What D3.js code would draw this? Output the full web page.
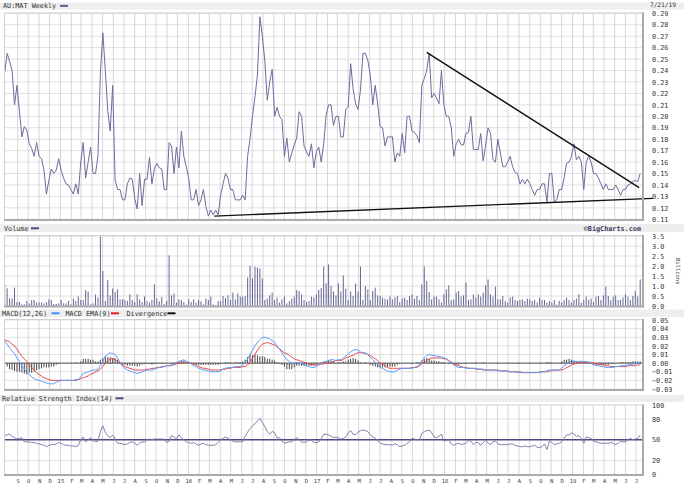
<!DOCTYPE html>
<html><head><meta charset="utf-8">
<script src="https://cdn.jsdelivr.net/npm/d3@7/dist/d3.min.js"></script>
<style>body{margin:0;background:#fff}svg{display:block}</style>
</head><body><svg id="c" width="684" height="485"></svg>
<script>
const startDate = new Date(2014, 6, 26);
const endDate = "7/21/19";
const symbolTitle = "AU:MAT Weekly";
const price = [
0.238,0.255,0.248,0.240,0.210,0.227,0.205,0.182,0.191,0.188,
0.176,0.172,0.165,0.177,0.165,0.163,0.153,0.132,0.144,0.154,
0.150,0.153,0.163,0.153,0.146,0.141,0.140,0.136,0.132,0.141,
0.132,0.160,0.177,0.146,0.160,0.173,0.150,0.150,0.165,0.238,
0.273,0.240,0.205,0.187,0.227,0.144,0.136,0.136,0.127,0.127,
0.141,0.146,0.145,0.128,0.119,0.150,0.122,0.145,0.145,0.164,
0.141,0.154,0.159,0.155,0.154,0.136,0.136,0.177,
0.174,0.150,0.173,0.155,0.187,0.165,0.156,0.146,0.127,0.127,
0.136,0.122,0.127,0.136,0.121,0.113,0.118,0.114,0.118,0.114,
0.131,0.141,0.150,0.146,0.136,0.136,0.127,0.127,0.127,0.131,
0.127,0.165,0.181,0.200,0.217,0.236,0.287,0.270,0.249,0.214,
0.230,0.241,0.200,0.208,0.200,0.197,0.165,0.181,0.160,0.168,
0.175,0.181,0.204,0.200,0.174,0.169,0.165,0.176,0.155,0.169,
0.173,0.160,0.176,0.201,0.210,0.210,0.192,0.200,
0.200,0.182,0.182,0.206,0.208,0.246,0.224,0.211,0.206,0.223,
0.255,0.255,0.249,0.236,0.210,0.227,0.211,0.191,0.190,0.174,
0.182,0.182,0.182,0.160,0.168,0.165,0.185,0.168,0.200,0.200,
0.187,0.186,0.183,0.177,0.227,0.233,0.240,0.255,0.216,0.220,
0.216,0.211,0.240,0.210,0.200,0.200,0.190,0.165,0.176,0.180,
0.175,0.175,0.185,0.186,0.200,0.171,0.171,0.171,0.185,0.161,
0.175,0.190,0.185,0.162,0.160,0.180,0.168,
0.156,0.156,0.160,0.165,0.156,0.151,0.150,0.141,0.145,0.141,
0.145,0.141,0.136,0.131,0.136,0.136,0.141,0.141,0.125,0.150,
0.150,0.125,0.127,0.136,0.136,0.146,0.159,0.160,0.165,0.176,
0.162,0.165,0.160,0.136,0.160,0.165,0.160,0.150,0.150,0.146,
0.141,0.136,0.141,0.136,0.136,0.136,0.140,0.136,0.131,0.136,
0.136,0.140,0.141,0.143,0.144,0.143,0.150];
const volume = [
1.08,0.88,0.38,0.38,0.92,0.2,0.2,0.08,0.08,0.25,
0.13,0.3,0.3,0.17,0.18,0.18,0.13,0.2,0.33,0.3,
0.1,0.1,0.13,0.3,0.13,0.13,0.25,0.08,0.37,0.25,
0.47,0.3,0.3,0.8,0.73,0.08,0.13,0.57,0.42,3.47,
1.75,0.25,1.3,0.53,0.88,0.7,0.83,0.33,0.33,0.3,
0.25,0.58,0.3,0.2,0.58,0.33,0.2,0.47,0.23,0.17,
0.3,1.08,0.37,0.23,0.45,0.1,0.25,2.53,0.53,0.63,
0.17,0.33,0.3,0.2,0.07,0.33,0.2,0.33,0.17,0.3,
0.23,0.08,0.37,0.3,0.47,0.08,0.05,0.25,0.25,0.5,
0.4,0.53,0.3,0.67,0.33,0.63,0.47,0.47,0.5,1.42,
2.0,1.38,1.97,1.92,1.87,1.37,0.3,0.37,0.53,0.67,
0.3,0.42,0.17,0.33,0.47,0.13,0.25,0.37,0.47,0.8,
0.75,0.58,0.3,0.2,0.25,0.47,0.42,0.58,0.8,0.9,
1.97,1.13,2.08,1.0,0.73,0.53,1.13,0.73,1.53,0.87,
0.3,0.73,0.5,1.13,0.73,1.97,0.3,1.0,0.83,0.3,
0.75,0.92,0.53,0.5,0.42,0.37,0.33,0.47,0.33,0.43,
0.5,0.2,0.37,0.42,0.3,0.5,0.58,0.37,0.5,0.3,
1.08,1.97,1.25,0.7,0.33,0.47,0.47,0.33,0.17,0.58,
0.83,1.03,0.3,0.33,0.67,0.75,0.47,0.53,1.17,0.3,
0.33,0.58,0.42,0.58,0.47,0.67,1.03,1.33,0.58,0.47,
0.97,0.33,0.33,0.5,0.25,0.17,0.42,0.47,0.3,0.25,
0.3,0.33,0.25,0.37,0.33,0.25,0.3,0.17,0.42,0.3,
0.3,0.17,0.25,0.17,0.3,0.07,0.25,0.17,0.3,0.42,
0.3,0.17,0.3,0.37,0.58,0.17,0.3,0.47,0.3,0.37,
0.2,0.47,0.5,0.3,0.53,0.97,0.5,0.3,0.47,0.53,
0.3,0.3,0.42,0.58,0.47,0.3,0.5,0.75,0.47,1.33];
const macd = [
0.026,0.022,0.018,0.014,0.011,0.006,0.002,-0.003,-0.007,-0.011,
-0.013,-0.016,-0.018,-0.019,-0.020,-0.021,-0.022,-0.023,-0.024,-0.024,
-0.024,-0.022,-0.021,-0.020,-0.020,-0.020,-0.020,-0.020,-0.020,-0.019,
-0.019,-0.016,-0.012,-0.011,-0.010,-0.009,-0.008,-0.008,-0.007,-0.003,
0.002,0.008,0.010,0.012,0.011,0.010,0.006,0.001,-0.004,-0.006,
-0.008,-0.009,-0.010,-0.011,-0.012,-0.011,-0.010,-0.009,-0.008,-0.008,
-0.008,-0.007,-0.006,-0.005,-0.005,-0.004,-0.003,-0.003,-0.003,-0.001,
0.000,0.002,0.003,0.004,0.002,0.001,-0.001,-0.003,-0.004,-0.006,
-0.007,-0.008,-0.008,-0.009,-0.010,-0.010,-0.010,-0.010,-0.009,-0.007,
-0.006,-0.005,-0.005,-0.005,-0.004,-0.004,-0.004,-0.002,0.000,0.005,
0.010,0.015,0.020,0.024,0.027,0.030,0.030,0.029,0.028,0.026,
0.024,0.020,0.016,0.012,0.008,0.004,0.002,0.000,0.000,0.001,
0.000,-0.001,-0.002,-0.003,-0.004,-0.005,-0.005,-0.004,-0.002,0.000,
0.001,0.002,0.003,0.004,0.004,0.003,0.004,0.004,0.006,0.008,
0.011,0.013,0.015,0.016,0.015,0.013,0.012,0.012,0.010,0.007,
0.004,0.001,-0.002,-0.005,-0.006,-0.008,-0.009,-0.010,-0.010,-0.010,
-0.008,-0.007,-0.006,-0.006,-0.006,-0.006,-0.006,-0.005,-0.004,-0.002,
0.002,0.006,0.009,0.010,0.009,0.009,0.008,0.008,0.007,0.006,
0.005,0.002,0.000,-0.002,-0.004,-0.005,-0.005,-0.005,-0.006,-0.006,
-0.006,-0.006,-0.006,-0.007,-0.007,-0.007,-0.008,-0.008,-0.008,-0.008,
-0.008,-0.009,-0.009,-0.009,-0.009,-0.010,-0.010,-0.010,-0.010,-0.011,
-0.011,-0.011,-0.011,-0.011,-0.011,-0.011,-0.011,-0.011,-0.011,-0.010,
-0.010,-0.009,-0.008,-0.008,-0.008,-0.008,-0.008,-0.006,-0.003,-0.001,
0.001,0.002,0.002,0.002,0.002,0.002,0.002,0.002,0.001,0.000,
-0.002,-0.003,-0.003,-0.004,-0.004,-0.005,-0.005,-0.005,-0.005,-0.004,
-0.004,-0.003,-0.003,-0.003,-0.002,-0.002,-0.001,-0.001,0.000,0.000];
const macdSignal = [
0.027,0.026,0.025,0.022,0.020,0.016,0.012,0.008,0.005,0.002,
-0.002,-0.005,-0.008,-0.011,-0.013,-0.015,-0.017,-0.018,-0.019,-0.020,
-0.020,-0.020,-0.020,-0.020,-0.020,-0.020,-0.020,-0.020,-0.020,-0.020,
-0.019,-0.018,-0.017,-0.016,-0.015,-0.013,-0.012,-0.010,-0.009,-0.007,
-0.004,0.000,0.003,0.005,0.005,0.004,0.002,0.000,-0.002,-0.004,
-0.005,-0.006,-0.007,-0.008,-0.008,-0.008,-0.008,-0.008,-0.007,-0.007,
-0.006,-0.006,-0.005,-0.005,-0.004,-0.004,-0.003,-0.003,-0.002,-0.002,
-0.001,0.000,0.000,0.001,0.001,0.001,0.000,-0.001,-0.002,-0.004,
-0.005,-0.006,-0.006,-0.007,-0.008,-0.008,-0.008,-0.008,-0.008,-0.007,
-0.007,-0.006,-0.006,-0.005,-0.005,-0.005,-0.005,-0.004,-0.004,-0.002,
0.000,0.006,0.010,0.015,0.019,0.022,0.023,0.024,0.023,0.022,
0.021,0.019,0.017,0.014,0.012,0.011,0.009,0.007,0.005,0.004,
0.003,0.002,0.001,0.000,-0.001,-0.002,-0.002,-0.002,-0.002,-0.001,
-0.001,0.000,0.000,0.001,0.002,0.003,0.003,0.003,0.004,0.006,
0.007,0.008,0.009,0.011,0.012,0.012,0.012,0.011,0.010,0.009,
0.007,0.005,0.003,0.000,-0.001,-0.003,-0.005,-0.006,-0.006,-0.006,
-0.006,-0.006,-0.006,-0.006,-0.006,-0.006,-0.005,-0.005,-0.005,-0.003,
-0.001,0.001,0.003,0.005,0.006,0.006,0.006,0.006,0.006,0.005,
0.005,0.003,0.001,-0.001,-0.002,-0.003,-0.004,-0.005,-0.005,-0.006,
-0.006,-0.006,-0.007,-0.007,-0.007,-0.008,-0.008,-0.008,-0.008,-0.008,
-0.008,-0.008,-0.009,-0.009,-0.009,-0.009,-0.010,-0.010,-0.010,-0.010,
-0.010,-0.011,-0.011,-0.011,-0.011,-0.011,-0.011,-0.011,-0.010,-0.010,
-0.010,-0.010,-0.009,-0.009,-0.008,-0.008,-0.008,-0.008,-0.007,-0.005,
-0.004,-0.002,-0.001,0.000,0.000,0.001,0.001,0.001,0.001,0.001,
0.000,-0.001,-0.001,-0.002,-0.002,-0.003,-0.003,-0.004,-0.004,-0.004,
-0.004,-0.004,-0.004,-0.004,-0.003,-0.003,-0.003,-0.003,-0.002,-0.002];
const divergence = [
-0.001,-0.004,-0.007,-0.008,-0.009,-0.010,-0.010,-0.011,-0.012,-0.013,
-0.011,-0.011,-0.010,-0.008,-0.007,-0.006,-0.005,-0.005,-0.005,-0.004,
-0.004,-0.002,-0.001,0,0,0,0,0,0,0.001,
0,0.002,0.005,0.005,0.005,0.004,0.004,0.002,0.002,0.004,
0.006,0.008,0.007,0.007,0.006,0.006,0.004,0.001,-0.002,-0.002,
-0.003,-0.003,-0.003,-0.003,-0.004,-0.003,-0.002,-0.001,-0.001,-0.001,
-0.002,-0.001,-0.001,0,-0.001,0,0,0,-0.001,0.001,
0.001,0.002,0.003,0.003,0.001,0,-0.001,-0.002,-0.002,-0.002,
-0.002,-0.002,-0.002,-0.002,-0.002,-0.002,-0.002,-0.002,-0.001,0,
0.001,0.001,0.001,0,0.001,0.001,0.001,0.002,0.004,0.007,
0.010,0.009,0.010,0.009,0.008,0.008,0.007,0.005,0.005,0.004,
0.003,0.001,-0.001,-0.002,-0.004,-0.007,-0.007,-0.007,-0.005,-0.003,
-0.003,-0.003,-0.003,-0.003,-0.003,-0.003,-0.003,-0.002,0,0.001,
0.002,0.002,0.003,0.003,0.002,0,0.001,0.001,0.002,0.002,
0.004,0.005,0.006,0.005,0.003,0.001,0,0.001,0,-0.002,
-0.003,-0.004,-0.005,-0.005,-0.005,-0.005,-0.004,-0.004,-0.004,-0.004,
-0.002,-0.001,0,0,0,0,-0.001,0,0.001,0.001,
0.003,0.005,0.006,0.005,0.003,0.003,0.002,0.002,0.001,0.001,
0,-0.001,-0.001,-0.001,-0.002,-0.002,-0.001,0,-0.001,0,
0,0,0.001,0,0,0.001,0,0,0,0,
0,-0.001,0,0,0,0,0,0,0,-0.001,
-0.001,0,0,0,0,0,0,0,-0.001,0,
0,0.001,0.001,0.001,0,0,0,0.002,0.004,0.004,
0.005,0.004,0.003,0.002,0.002,0.001,0.001,0.001,0,-0.001,
-0.002,-0.002,-0.002,-0.002,-0.002,-0.002,-0.002,-0.001,-0.001,0,
0,0.001,0.001,0.001,0.001,0.001,0.002,0.002,0.002,0.002];
const rsi = [
56,57,58,55,53,51,52,53,47,47,
47,46,46,45,44,43,42,40,42,43,
43,44,46,45,43,42,42,41,41,40,
42,50,54,47,50,53,49,47,48,62,
70,61,56,53,57,52,45,45,44,43,
44,46,47,45,42,45,47,47,50,51,
50,51,51,51,51,51,46,48,56,54,
51,57,53,50,47,46,45,46,44,42,
44,45,43,42,42,42,43,46,50,52,
54,52,50,48,47,47,47,47,55,61,
66,70,73,77,81,75,69,62,58,62,
60,53,53,48,45,46,47,47,50,53,
50,47,46,47,50,49,46,46,47,52,
58,58,57,55,53,54,53,51,52,54,
60,63,58,57,61,63,64,63,62,57,
54,52,49,45,44,43,43,43,42,44,
43,40,41,42,45,47,52,51,50,50,
59,62,63,64,60,54,53,55,58,48,
49,50,44,42,44,45,43,44,45,49,
48,43,46,46,42,46,49,45,43,47,
48,44,43,43,43,43,44,44,42,41,
40,40,41,40,40,41,42,39,39,40,
44,36,48,46,43,44,45,47,52,57,
57,60,58,55,56,52,45,54,53,52,
48,47,46,45,45,45,45,46,45,43,
45,48,47,47,50,52,50,51,52,57];
const priceTicks = [0.11,0.12,0.13,0.14,0.15,0.16,0.17,0.18,0.19,0.20,0.21,0.22,0.23,0.24,0.25,0.26,0.27,0.28,0.29];
const volumeTicks = [0,0.5,1,1.5,2,2.5,3,3.5];
const macdTicks = [-0.03,-0.02,-0.01,0,0.01,0.02,0.03,0.04,0.05];
const rsiTicks = [0,20,50,80,100];
const monthLabels = ["S","O","N","D","15","F","M","A","M","J","J","A","S","O","N","D","16","F","M","A","M","J","J","A","S","O","N","D","17","F","M","A","M","J","J","A","S","O","N","D","18","F","M","A","M","J","J","A","S","O","N","D","19","F","M","A","M","J","J"];
const trendStarts = ["2016-03-15","2017-11-11"];
const trendEnds = ["2019-08-18","2019-07-10"];
const trendStartValues = [0.1128,0.2559];
const trendEndValues = [0.1283,0.1376];

const W=684,H=485,X0=4,X1=643;
const FONT="DejaVu Sans Mono";
const svg=d3.select("#c");
const x=d3.scaleTime().domain([new Date(2014,6,24),new Date(2019,6,21)]).range([X0,X1]);
const dates=price.map((_,i)=>d3.timeDay.offset(startDate,7*i));
const months=d3.timeMonth.range(new Date(2014,8,1),new Date(2019,7,1));
const parse=d3.timeParse("%Y-%m-%d");

function band(y0,y1){svg.append("rect").attr("x",0).attr("y",y0).attr("width",W).attr("height",y1-y0).attr("fill","#eeeeee");}
function label(t,xx,yy,opt={}){return svg.append("text").attr("x",xx).attr("y",yy).attr("font-family",FONT).attr("font-size",opt.size||6.8).attr("fill",opt.fill||"#333").attr("font-weight",opt.weight||"normal").attr("text-anchor",opt.anchor||"start").text(t);}
function legendLine(x0,yy,c){svg.append("line").attr("x1",x0).attr("x2",x0+8).attr("y1",yy).attr("y2",yy).attr("stroke",c).attr("stroke-width",2);}

function panel(top,bottom,y,grid,ticks,fmt){
  svg.append("rect").attr("x",X0).attr("y",top).attr("width",X1-X0).attr("height",bottom-top).attr("fill","#fff");
  const g=svg.append("g");
  g.selectAll(null).data(grid).join("line").attr("x1",X0).attr("x2",X1).attr("y1",d=>y(d)).attr("y2",d=>y(d)).attr("stroke","#e0e0e0");
  g.selectAll(null).data(months).join("line").attr("x1",d=>x(d)).attr("x2",d=>x(d)).attr("y1",top).attr("y2",bottom).attr("stroke","#d6d6d6");
  const ax=d3.axisRight(y).tickValues(ticks).tickFormat(fmt).tickSize(0).tickPadding(9);
  const a=svg.append("g").attr("transform",`translate(${X1},0)`).call(ax);
  a.select(".domain").remove();
  a.attr("font-family",FONT).attr("font-size",6.8);
  a.selectAll("text").attr("fill","#333");
  return g;
}
function frame(top,bottom){
  svg.append("rect").attr("x",X0+0.5).attr("y",top+0.5).attr("width",X1-X0-1).attr("height",bottom-top-1).attr("fill","none").attr("stroke","#d0d0d0");
  svg.append("line").attr("x1",X1).attr("x2",X1).attr("y1",top).attr("y2",bottom+1).attr("stroke","#aaaaaa").attr("stroke-width",2);
  svg.append("line").attr("x1",X0).attr("x2",X1+1).attr("y1",bottom).attr("y2",bottom).attr("stroke","#aaaaaa").attr("stroke-width",2);
}

// headers
band(2.5,9.5); band(224,232); band(309.5,317); band(395,402);
label(symbolTitle,3,8.4); legendLine(60,5.8,"#5c5c8c");
label(endDate,676,6.5,{anchor:"end",size:6.2});
label("Volume",4,230.8); legendLine(31,228.3,"#4c4c7c");
label("\u00A9BigCharts.com",641,231,{anchor:"end",weight:"bold",fill:"#3a3a5a"});
label("MACD(12,26)",2,315.8); legendLine(51.5,313.3,"#3f8cff");
label("MACD EMA(9)",65.5,315.8); legendLine(111,313.3,"#e02020");
label("Divergence",126.5,315.8); legendLine(167.5,313.3,"#111");
label("Relative Strength Index(14)",2,400.8); legendLine(115.5,398.3,"#4c4c80");

// price panel
const yP=d3.scaleLinear().domain([0.11,0.29]).range([219.3,13.3]);
panel(12.5,220,yP,priceTicks,priceTicks,d3.format(".2f"));
svg.append("path").datum(price).attr("fill","none").attr("stroke","#6c6ca0").attr("stroke-width",1)
  .attr("d",d3.line().x((d,i)=>x(dates[i])).y(d=>yP(d)));
trendStarts.forEach((s,i)=>{
  svg.append("line").attr("x1",x(parse(s))).attr("y1",yP(trendStartValues[i])).attr("x2",x(parse(trendEnds[i]))).attr("y2",yP(trendEndValues[i]))
    .attr("stroke","#111").attr("stroke-width",1.4);
});
frame(12.5,220);

// volume panel
const yV=d3.scaleLinear().domain([0,3.5]).range([306,236]);
panel(235,306.5,yV,volumeTicks,volumeTicks,d3.format(".1f"));
svg.append("g").selectAll("line").data(volume).join("line")
  .attr("x1",(d,i)=>x(dates[i])).attr("x2",(d,i)=>x(dates[i])).attr("y1",yV(0)).attr("y2",d=>yV(d))
  .attr("stroke","#55558a").attr("stroke-width",0.9);
frame(235,306.5);
svg.append("text").attr("transform","translate(676,258) rotate(90)").attr("font-family",FONT).attr("font-size",5.5).attr("fill","#333").text("Billions");

// MACD panel
const yM=d3.scaleLinear().domain([-0.03,0.05]).range([389,320]);
panel(319,390,yM,macdTicks,macdTicks,d3.format(".2f"));
svg.append("g").selectAll("line").data(divergence).join("line")
  .attr("x1",(d,i)=>x(dates[i])).attr("x2",(d,i)=>x(dates[i])).attr("y1",yM(0)).attr("y2",d=>yM(d))
  .attr("stroke","#333").attr("stroke-width",0.9);
svg.append("line").attr("x1",X0).attr("x2",X1).attr("y1",yM(0)).attr("y2",yM(0)).attr("stroke","#555");
svg.append("path").datum(macdSignal).attr("fill","none").attr("stroke","#e84a4a").attr("stroke-width",1)
  .attr("d",d3.line().x((d,i)=>x(dates[i])).y(d=>yM(d)));
svg.append("path").datum(macd).attr("fill","none").attr("stroke","#5a9cff").attr("stroke-width",1)
  .attr("d",d3.line().x((d,i)=>x(dates[i])).y(d=>yM(d)));
frame(319,390);

// RSI panel
const yR=d3.scaleLinear().domain([0,100]).range([474.5,405]);
panel(404.5,475,yR,[20,80],rsiTicks,d3.format("d"));
svg.append("line").attr("x1",X0).attr("x2",X1).attr("y1",yR(50)).attr("y2",yR(50)).attr("stroke","#4c4c80").attr("stroke-width",1.3);
svg.append("path").datum(rsi).attr("fill","none").attr("stroke","#7575a5").attr("stroke-width",0.9)
  .attr("d",d3.line().x((d,i)=>x(dates[i])).y(d=>yR(d)));
frame(404.5,475);

// date axis
const xa=d3.axisBottom(x).tickValues(months).tickFormat((d,i)=>monthLabels[i]).tickSize(0).tickPadding(3);
const xg=svg.append("g").attr("transform","translate(0,476)").call(xa);
xg.select(".domain").remove();
xg.attr("font-family",FONT).attr("font-size",5.5);
xg.selectAll("text").attr("fill","#333");
</script></body></html>
